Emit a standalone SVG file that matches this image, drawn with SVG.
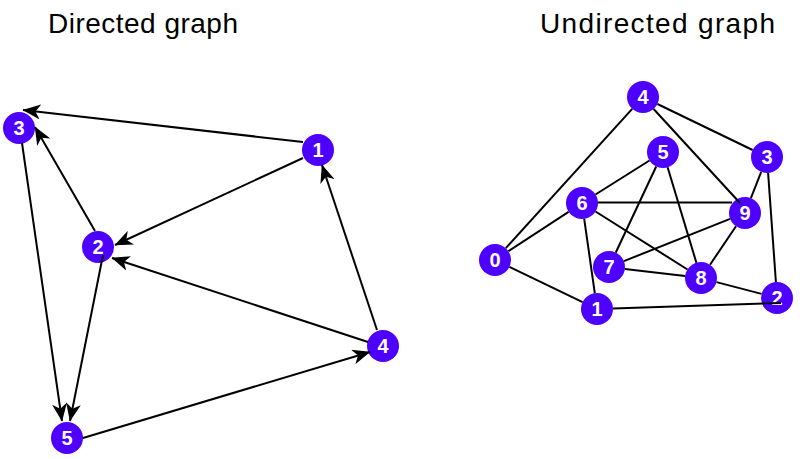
<svg xmlns="http://www.w3.org/2000/svg" width="800" height="459" viewBox="0 0 800 459">
<defs>
<style>
.title{font-family:"Liberation Sans",Arial,sans-serif;font-size:28px;fill:#000}
.node circle{fill:#4d00ff}
.node text{font-family:"Liberation Sans",Arial,sans-serif;font-size:20px;font-weight:bold;fill:#fff;text-anchor:middle}
.edges line{stroke:#000;stroke-width:2;fill:none}
.arr line{marker-end:url(#ah)}
</style>
<marker id="ah" markerUnits="userSpaceOnUse" viewBox="0 0 18 15" markerWidth="18" markerHeight="15" refX="17.5" refY="7.5" orient="auto">
<path d="M0,0 L18,7.5 L0,15 L5,7.5 Z" fill="#000"/>
</marker>
</defs>
<rect width="800" height="459" fill="#fff"/>
<text class="title" x="48" y="33" textLength="190">Directed graph</text>
<text class="title" x="540" y="33" textLength="235">Undirected graph</text>

<g id="d-nodes">
<g id="d3" class="node"><circle cx="19" cy="128" r="16"/><text x="19" y="135">3</text></g>
<g id="d1" class="node"><circle cx="318" cy="150" r="16"/><text x="318" y="157">1</text></g>
<g id="d2" class="node"><circle cx="98" cy="247" r="16"/><text x="98" y="254">2</text></g>
<g id="d4" class="node"><circle cx="383" cy="346" r="16"/><text x="383" y="353">4</text></g>
<g id="d5" class="node"><circle cx="67" cy="438" r="16"/><text x="67" y="445">5</text></g>
</g>

<g id="u-nodes">
<g id="u0" class="node"><circle cx="495" cy="260" r="16"/><text x="495" y="267">0</text></g>
<g id="u1" class="node"><circle cx="597" cy="309" r="16"/><text x="597" y="316">1</text></g>
<g id="u2" class="node"><circle cx="777" cy="298" r="16"/><text x="777" y="305">2</text></g>
<g id="u3" class="node"><circle cx="767" cy="157" r="16"/><text x="767" y="164">3</text></g>
<g id="u4" class="node"><circle cx="643" cy="97" r="16"/><text x="643" y="104">4</text></g>
<g id="u5" class="node"><circle cx="663" cy="152" r="16"/><text x="663" y="159">5</text></g>
<g id="u6" class="node"><circle cx="582" cy="203" r="16"/><text x="582" y="210">6</text></g>
<g id="u7" class="node"><circle cx="609" cy="267" r="16"/><text x="609" y="274">7</text></g>
<g id="u8" class="node"><circle cx="701" cy="278" r="16"/><text x="701" y="285">8</text></g>
<g id="u9" class="node"><circle cx="745" cy="213" r="16"/><text x="745" y="220">9</text></g>
</g>

<g id="connectors" class="edges">
<g class="arr">
<line x1="303" y1="142" x2="23" y2="110"/>
<line x1="95" y1="231" x2="35" y2="127"/>
<line x1="303" y1="158" x2="115" y2="245"/>
<line x1="377" y1="330" x2="322" y2="165"/>
<line x1="368" y1="342" x2="112" y2="258"/>
<line x1="22" y1="143" x2="62" y2="421"/>
<line x1="103" y1="255" x2="70" y2="421"/>
<line x1="83" y1="438" x2="370" y2="352"/>
</g>
<line x1="632.2" y1="108.8" x2="505.8" y2="248.2"/>
<line x1="657.4" y1="104" x2="752.6" y2="150"/>
<line x1="653.6" y1="109" x2="740" y2="203"/>
<line x1="649.5" y1="160.5" x2="595.5" y2="194.5"/>
<line x1="656.2" y1="166.5" x2="615.8" y2="252.5"/>
<line x1="667.6" y1="167.3" x2="696.4" y2="262.7"/>
<line x1="761.2" y1="171.9" x2="750.9" y2="198.1"/>
<line x1="768.1" y1="173" x2="775.9" y2="282"/>
<line x1="598" y1="202.5" x2="732" y2="202.5"/>
<line x1="568.6" y1="211.8" x2="508.4" y2="251.2"/>
<line x1="584.2" y1="218.8" x2="594.8" y2="293.2"/>
<line x1="595.5" y1="211.5" x2="687.5" y2="269.5"/>
<line x1="730.1" y1="218.9" x2="623.9" y2="261.1"/>
<line x1="736" y1="226.2" x2="710" y2="264.8"/>
<line x1="509.4" y1="266.9" x2="582.6" y2="302.1"/>
<line x1="624.9" y1="268.9" x2="685.1" y2="276.1"/>
<line x1="716.5" y1="282.1" x2="761.5" y2="293.9"/>
<line x1="613" y1="308.5" x2="781" y2="303"/>
</g>
</svg>
